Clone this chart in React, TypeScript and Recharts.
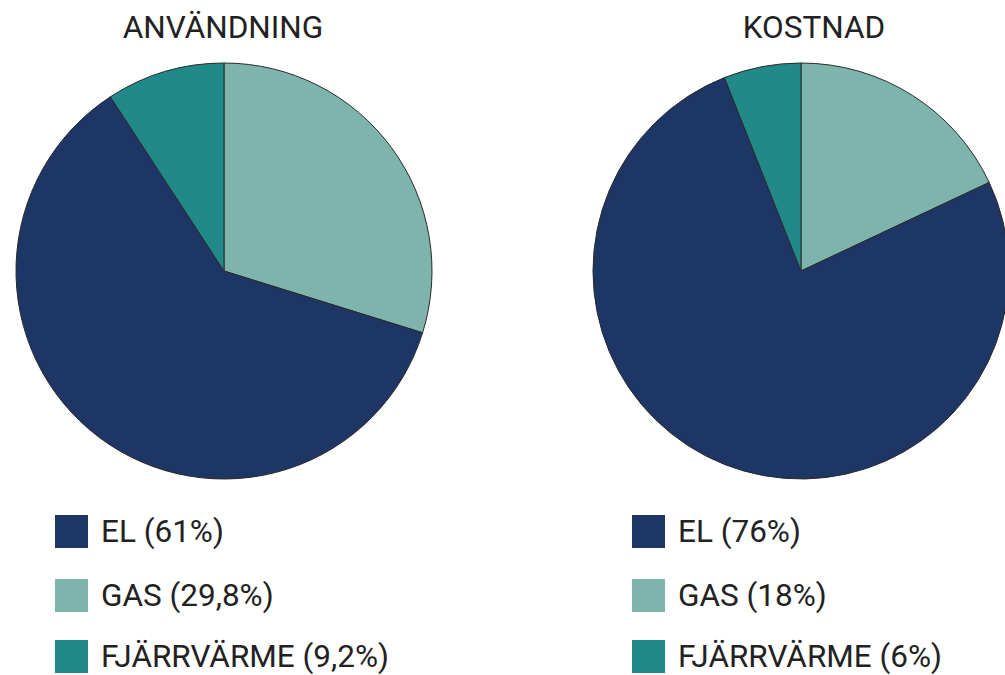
import React from 'react';
import { PieChart, Pie, Cell } from 'recharts';

const categories = ['GAS', 'EL', 'FJÄRRVÄRME'];
const usageValues = [29.8, 61, 9.2];
const costValues = [18, 76, 6];
const usageLabels = ['EL (61%)', 'GAS (29,8%)', 'FJÄRRVÄRME (9,2%)'];
const costLabels = ['EL (76%)', 'GAS (18%)', 'FJÄRRVÄRME (6%)'];
const legendOrder = ['EL', 'GAS', 'FJÄRRVÄRME'];

const COLORS: Record<string, string> = {
  EL: '#1d3666',
  GAS: '#7db5ad',
  'FJÄRRVÄRME': '#218a89',
};

const usageData = categories.map((name, i) => ({ name, value: usageValues[i] }));
const costData = categories.map((name, i) => ({ name, value: costValues[i] }));

const font = 'Roboto, "Noto Sans", sans-serif';

const Legend: React.FC<{ left: number; labels: string[] }> = ({ left, labels }) => (
  <div style={{ position: 'absolute', left, top: 515 }}>
    {legendOrder.map((key, i) => (
      <div
        key={key}
        style={{ position: 'absolute', left: 0, top: [0, 64, 125][i], display: 'flex', alignItems: 'center', whiteSpace: 'nowrap' }}
      >
        <div style={{ width: 33, height: 33, background: COLORS[key] }} />
        <span style={{ marginLeft: 13, fontSize: 31.5, color: '#222', fontFamily: font, lineHeight: '33px' }}>
          {labels[i]}
        </span>
      </div>
    ))}
  </div>
);

const titleStyle: React.CSSProperties = {
  position: 'absolute',
  width: 300,
  top: 8,
  textAlign: 'center',
  fontSize: 31.5,
  color: '#222',
  lineHeight: '40px',
};

export default function App() {
  return (
    <div style={{ position: 'absolute', left: 0, top: 0, width: 1005, height: 675, overflow: 'hidden', background: '#fff', fontFamily: font }}>
      <div style={{ ...titleStyle, left: 73 }}>ANVÄNDNING</div>
      <div style={{ ...titleStyle, left: 664 }}>KOSTNAD</div>
      <PieChart
        width={1005}
        height={675}
        margin={{ top: 0, right: 0, bottom: 0, left: 0 }}
        style={{ position: 'absolute', left: 0, top: 0 }}
      >
        <Pie
          data={usageData}
          dataKey="value"
          cx={224}
          cy={271}
          outerRadius={208}
          startAngle={90}
          endAngle={-270}
          stroke="#2a2a2a"
          strokeWidth={1}
          isAnimationActive={false}
        >
          {usageData.map((d) => (
            <Cell key={d.name} fill={COLORS[d.name]} />
          ))}
        </Pie>
        <Pie
          data={costData}
          dataKey="value"
          cx={801}
          cy={271}
          outerRadius={208}
          startAngle={90}
          endAngle={-270}
          stroke="#2a2a2a"
          strokeWidth={1}
          isAnimationActive={false}
        >
          {costData.map((d) => (
            <Cell key={d.name} fill={COLORS[d.name]} />
          ))}
        </Pie>
      </PieChart>
      <Legend left={55} labels={usageLabels} />
      <Legend left={632} labels={costLabels} />
    </div>
  );
}
